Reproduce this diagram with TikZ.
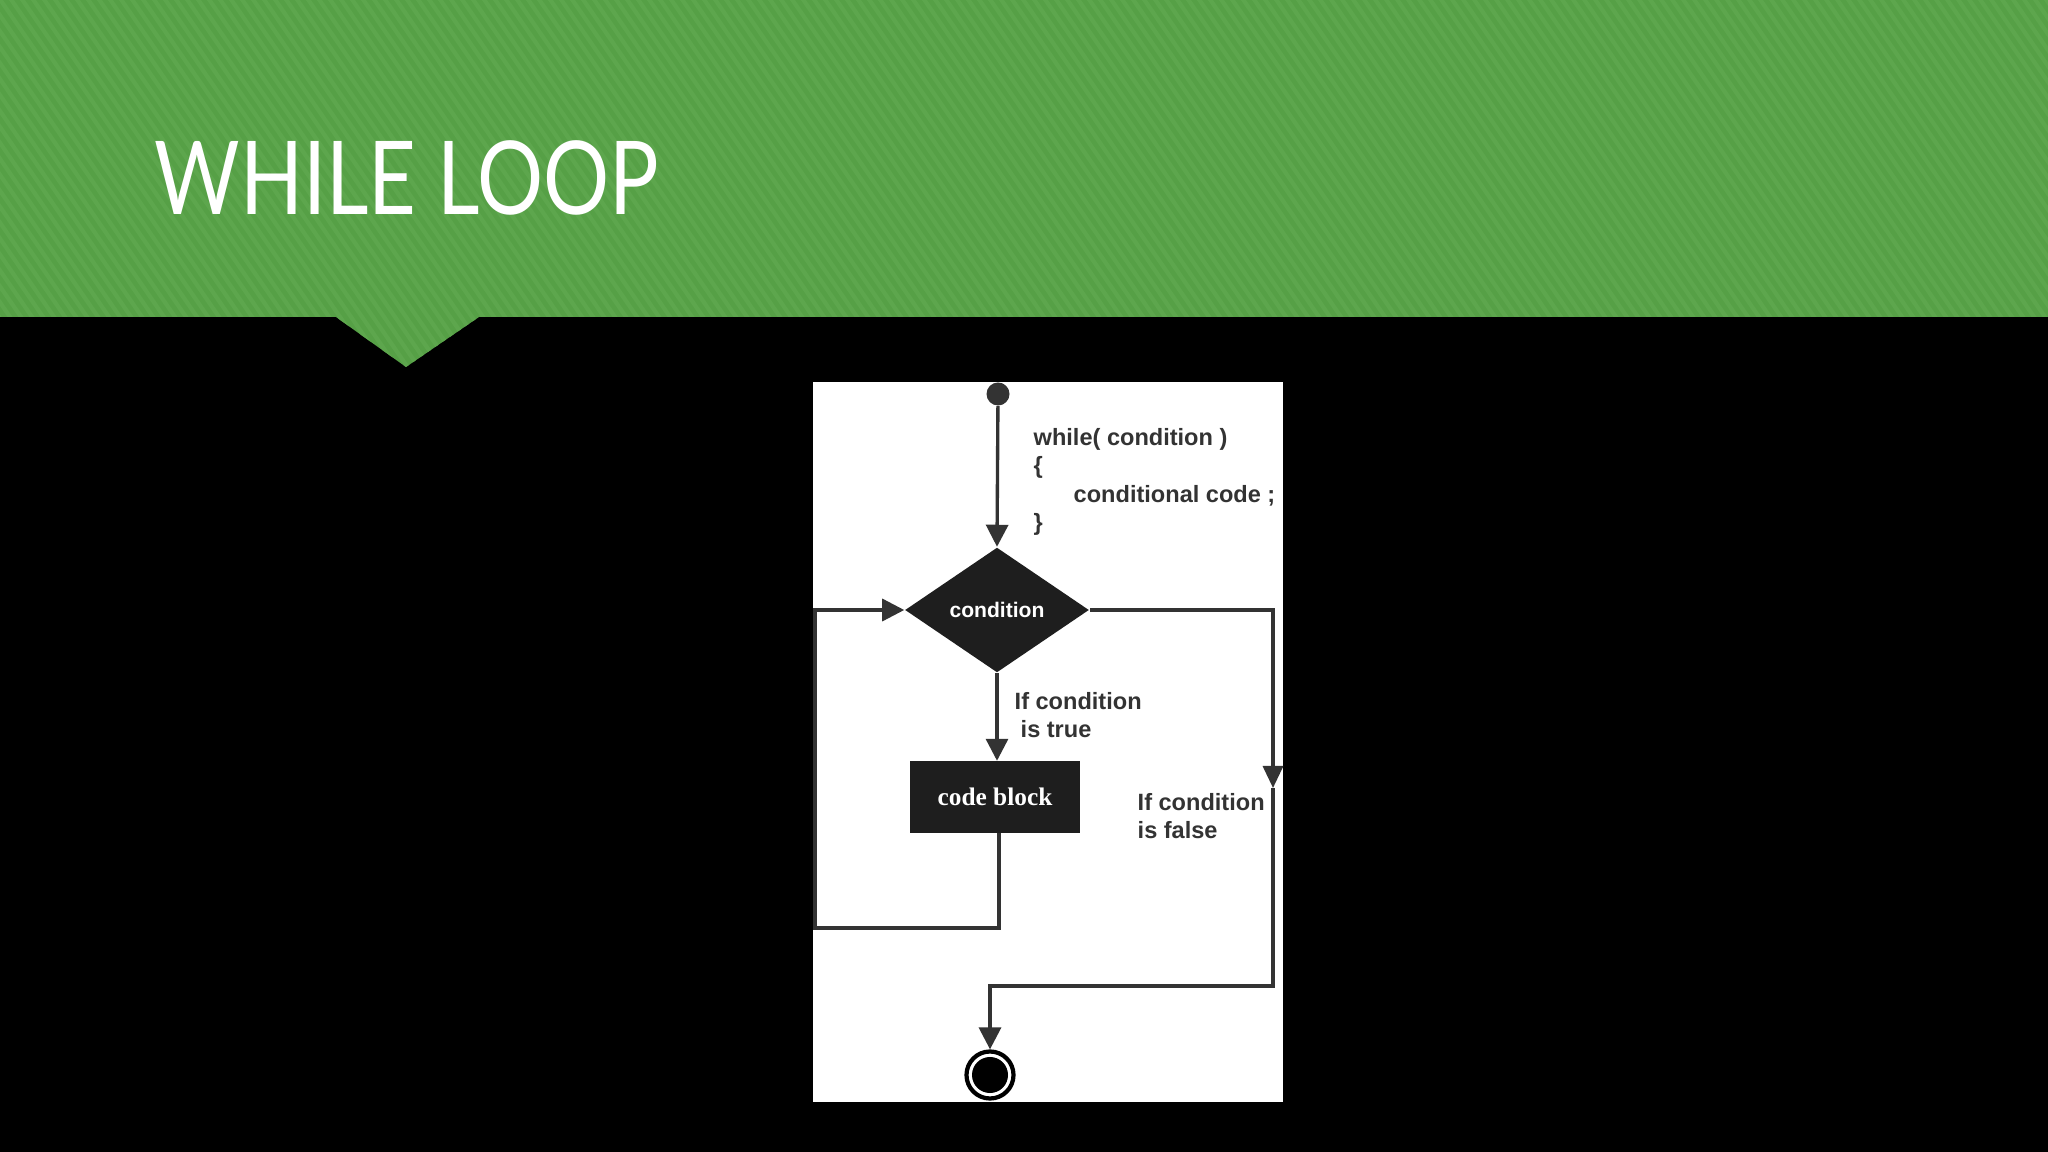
\documentclass[tikz,border=0pt]{standalone}
\usepackage{fontspec}
\usetikzlibrary{shapes.geometric,arrows.meta,positioning}
\newfontfamily\titlefont{Lato}
\newfontfamily\flowfont{Liberation Sans}
\newfontfamily\blockfont{Liberation Serif}
\definecolor{banner}{HTML}{56A046}
\definecolor{stripe}{HTML}{5DA64D}
\definecolor{flow}{HTML}{333333}
\definecolor{blockfill}{HTML}{1E1E1E}
\tikzset{
  flowline/.style={draw=flow, line width=0.95pt},
  flowarrow/.style={flowline, -{Triangle[length=0.22cm,width=0.22cm]}},
  labeltext/.style={font=\flowfont\bfseries\fontsize{6.7}{8}\selectfont, text=flow, align=left, inner sep=0pt, anchor=north west},
}
\begin{document}
\begin{tikzpicture}[x=0.01cm, y=-0.01cm]
\fill [black] (0,0) rectangle (2048,1152);
\fill [banner] (0,0) -- (2048,0) -- (2048,317) -- (479,317) -- (406,367) -- (336,317) -- (0,317) -- cycle;
\begin{scope}
\clip (0,0) -- (2048,0) -- (2048,317) -- (479,317) -- (406,367) -- (336,317) -- (0,317) -- cycle;
\foreach \s in {-300,-289,...,2060}
  \draw [stripe, line width=1.2pt] (\s,-5) -- (\s+260,372);
\end{scope}
\node [font=\titlefont\fontsize{29}{35}\selectfont, text=white, anchor=base west, inner sep=0pt, xscale=0.81] (title) at (154,215) {WHILE LOOP};

% flow chart panel
\fill [white] (813,382) rectangle (1283,1102);
\node [circle, fill=flow, minimum size=0.23cm, inner sep=0pt] (start) at (998,394) {};
\node [diamond, aspect=1.47, fill=blockfill, minimum width=1.84cm, minimum height=1.25cm, inner sep=0pt, text=white, font=\flowfont\bfseries\fontsize{6}{7}\selectfont] (cond) at (997,610) {condition};
\node [rectangle, fill=blockfill, minimum width=1.69cm, minimum height=0.71cm, inner sep=0pt, text=white, font=\blockfont\bfseries\fontsize{7.2}{9}\selectfont] (block) at (995,797) {code block};
\node [circle, draw=black, line width=1.2pt, minimum size=0.47cm, inner sep=0pt] (stopring) at (990,1075) {};
\node [circle, fill=black, minimum size=0.36cm, inner sep=0pt] (stop) at (stopring) {};

\node [labeltext] (code) at (1033,428) {while( condition )\\\{\\\hspace*{0.4cm}conditional code ;\\\}};
\node [labeltext] (truelabel) at (1014,692) {If condition\\\hspace*{0.06cm}is true};
\node [labeltext] (falselabel) at (1137,793) {If condition\\is false};

\coordinate (loopcorner) at (815,928);
\coordinate (falsetip) at (1273,788);
\coordinate (falseturn) at (1273,986);

\draw [flowarrow] (start) -- (cond.north);
\draw [flowarrow] (cond.south) -- (cond.south |- block.north);
\draw [flowarrow] ([xshift=0.04cm]block.south) |- (loopcorner) |- (cond.west);
\draw [flowarrow, -{Triangle[length=0.22cm,width=0.2cm]}] (cond.east) -| (falsetip);
\draw [flowarrow] (falsetip) -- (falseturn) -| (stopring.north);
\end{tikzpicture}
\end{document}
